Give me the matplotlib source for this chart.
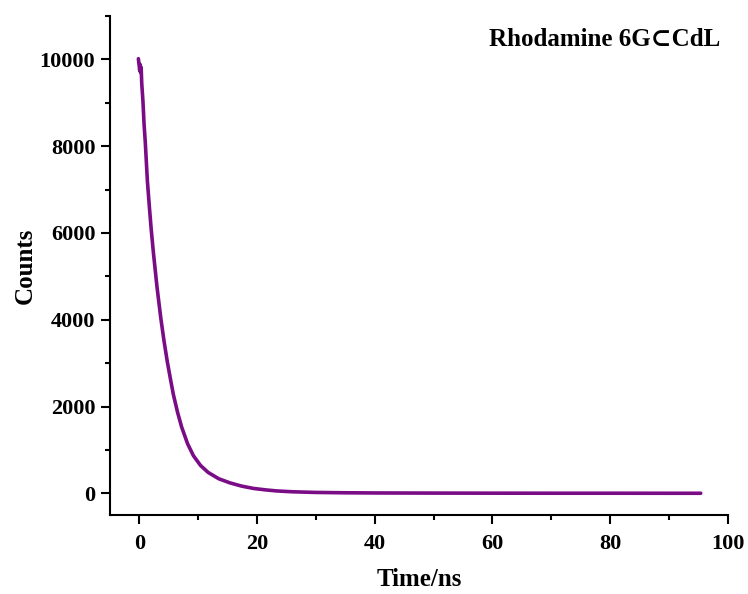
import matplotlib
matplotlib.use("Agg")
import matplotlib.pyplot as plt
from matplotlib.ticker import MultipleLocator

# Fluorescence decay of Rhodamine 6G⊂CdL (time in ns, photon counts)
time_ns = [-0.17, 0.05, 0.12, 0.2, 0.3, 0.4, 0.6, 0.8, 1.0, 1.36, 1.7, 2.0,
           2.38, 3.0, 3.63, 3.97, 4.2, 4.75, 5.3, 5.77, 6.5, 7.2, 8.2, 9.17,
           10.4, 11.7, 13.5, 15.4, 17.4, 19.4, 21.5, 23.3, 26.0, 30.0, 35.0,
           40.0, 50.0, 60.0, 70.0, 80.0, 90.0, 95.4]
counts = [10016, 9750, 9885, 9700, 9820, 9450, 9050, 8500, 8100, 7200, 6600,
          6100, 5550, 4750, 4050, 3720, 3500, 3030, 2620, 2280, 1860, 1520,
          1140, 870, 640, 480, 335, 240, 165, 112, 78, 55, 35, 20, 12, 8, 5,
          3, 2, 2, 1, 1]

x_ticks = [0, 20, 40, 60, 80, 100]
y_ticks = [0, 2000, 4000, 6000, 8000, 10000]

serif = ["Liberation Serif", "DejaVu Serif"]
plt.rcParams["font.family"] = serif
plt.rcParams["font.weight"] = "bold"

fig = plt.figure(figsize=(7.48, 5.94), dpi=100)
ax = fig.add_axes([0.147, 0.133, 0.826, 0.840])

ax.plot(time_ns, counts, color="#7a0c86", linewidth=2.6,
        solid_joinstyle="round", solid_capstyle="round")

ax.set_xlim(-5, 100)
ax.set_ylim(-500, 11000)
ax.set_xticks(x_ticks)
ax.set_yticks(y_ticks)
ax.xaxis.set_minor_locator(MultipleLocator(10))
ax.yaxis.set_minor_locator(MultipleLocator(1000))

for side in ("top", "right"):
    ax.spines[side].set_visible(False)
for side in ("left", "bottom"):
    ax.spines[side].set_linewidth(1.5)

ax.tick_params(which="major", direction="out", length=6.5, width=1.5,
               labelsize=16)
ax.tick_params(axis="x", which="major", pad=7)
ax.tick_params(axis="y", which="major", pad=4)
ax.tick_params(which="minor", direction="out", length=3.8, width=1.5)
for lbl in ax.get_xticklabels() + ax.get_yticklabels():
    lbl.set_fontweight("bold")

ax.set_xlabel("Time/ns", fontsize=18, fontweight="bold", labelpad=10)
ax.set_ylabel("Counts", fontsize=18, fontweight="bold", labelpad=2)

ax.text(0.80, 0.953, "Rhodamine 6G\u2282CdL", transform=ax.transAxes,
        ha="center", va="center", fontsize=18, fontweight="bold",
        family=serif)

fig.savefig("out.png", dpi=100)
